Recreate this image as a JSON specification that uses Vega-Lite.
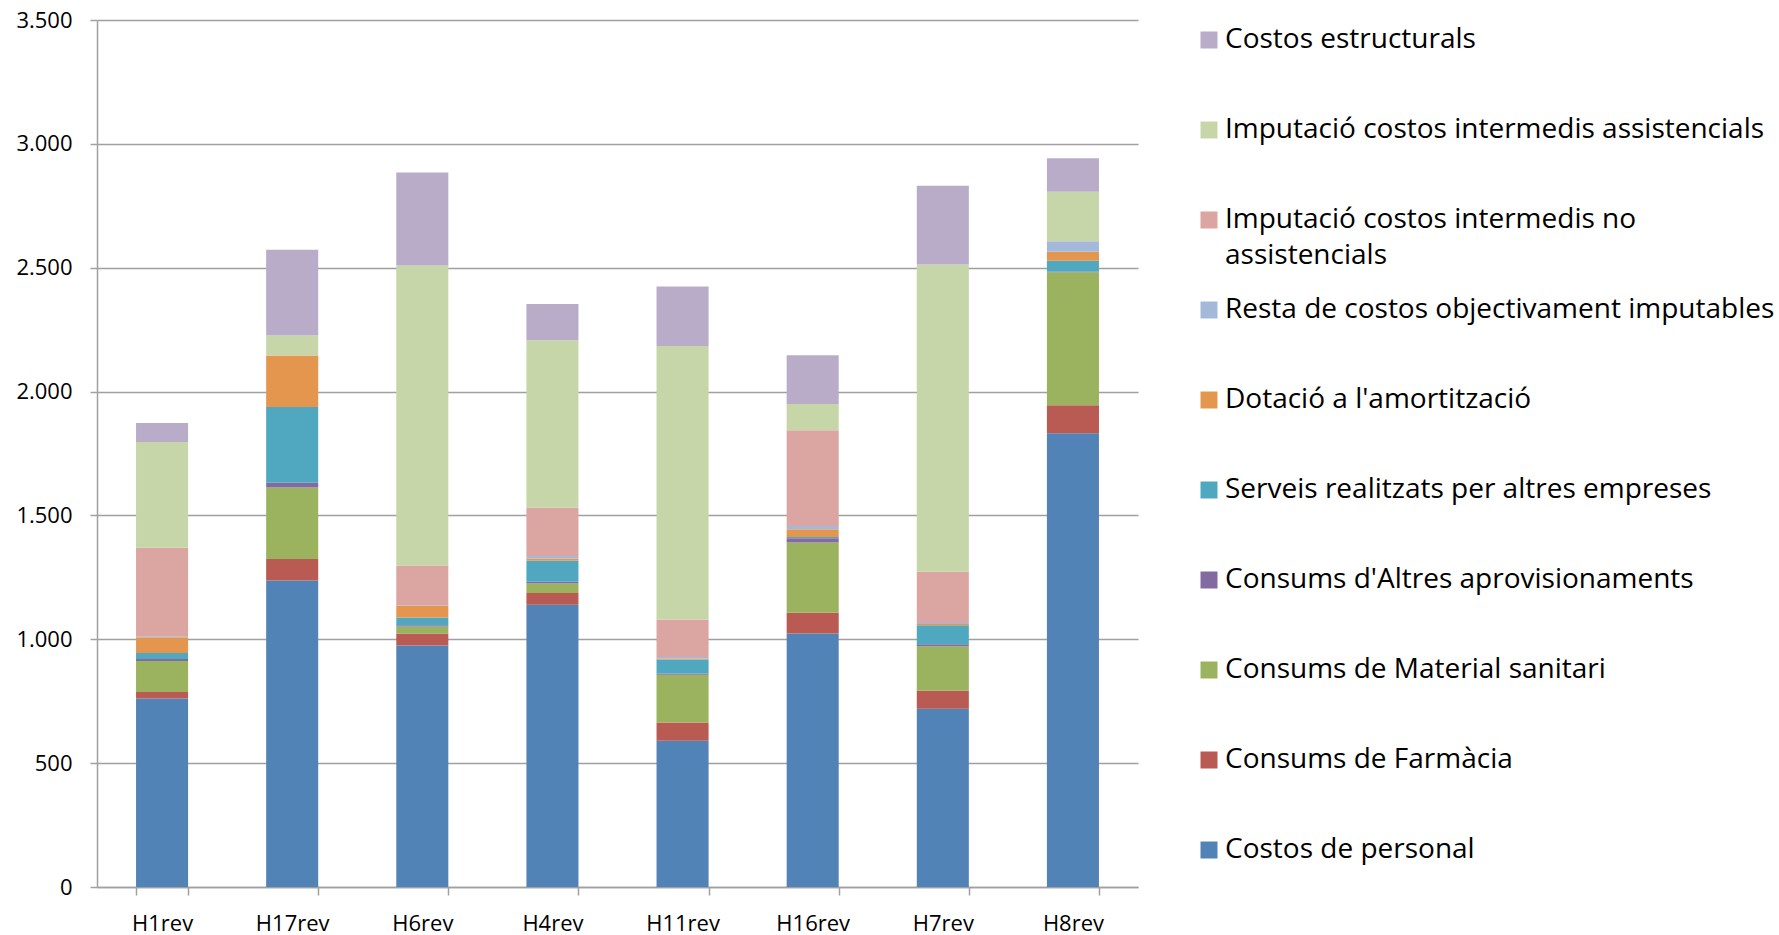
{
  "$schema": "https://vega.github.io/schema/vega-lite/v6.json",
  "autosize": {"type": "none"},
  "padding": {"left": 97, "top": 20, "right": 641, "bottom": 48},
  "width": 1041,
  "height": 867,
  "background": "white",
  "config": {
    "view": {"stroke": null},
    "font": "Open Sans"
  },
  "data": {
    "values": [
      {"h": "H1rev", "cat": "Costos de personal", "v": 761},
      {"h": "H1rev", "cat": "Consums de Farmàcia", "v": 26},
      {"h": "H1rev", "cat": "Consums de Material sanitari", "v": 125},
      {"h": "H1rev", "cat": "Consums d'Altres aprovisionaments", "v": 8},
      {"h": "H1rev", "cat": "Serveis realitzats per altres empreses", "v": 25},
      {"h": "H1rev", "cat": "Dotació a l'amortització", "v": 63},
      {"h": "H1rev", "cat": "Resta de costos objectivament imputables", "v": 4},
      {"h": "H1rev", "cat": "Imputació costos intermedis no assistencials", "v": 358},
      {"h": "H1rev", "cat": "Imputació costos intermedis assistencials", "v": 426},
      {"h": "H1rev", "cat": "Costos estructurals", "v": 77},

      {"h": "H17rev", "cat": "Costos de personal", "v": 1237},
      {"h": "H17rev", "cat": "Consums de Farmàcia", "v": 87},
      {"h": "H17rev", "cat": "Consums de Material sanitari", "v": 289},
      {"h": "H17rev", "cat": "Consums d'Altres aprovisionaments", "v": 19},
      {"h": "H17rev", "cat": "Serveis realitzats per altres empreses", "v": 306},
      {"h": "H17rev", "cat": "Dotació a l'amortització", "v": 208},
      {"h": "H17rev", "cat": "Resta de costos objectivament imputables", "v": 0},
      {"h": "H17rev", "cat": "Imputació costos intermedis no assistencials", "v": 0},
      {"h": "H17rev", "cat": "Imputació costos intermedis assistencials", "v": 80},
      {"h": "H17rev", "cat": "Costos estructurals", "v": 347},

      {"h": "H6rev", "cat": "Costos de personal", "v": 975},
      {"h": "H6rev", "cat": "Consums de Farmàcia", "v": 48},
      {"h": "H6rev", "cat": "Consums de Material sanitari", "v": 29},
      {"h": "H6rev", "cat": "Consums d'Altres aprovisionaments", "v": 5},
      {"h": "H6rev", "cat": "Serveis realitzats per altres empreses", "v": 31},
      {"h": "H6rev", "cat": "Dotació a l'amortització", "v": 48},
      {"h": "H6rev", "cat": "Resta de costos objectivament imputables", "v": 2},
      {"h": "H6rev", "cat": "Imputació costos intermedis no assistencials", "v": 160},
      {"h": "H6rev", "cat": "Imputació costos intermedis assistencials", "v": 1211},
      {"h": "H6rev", "cat": "Costos estructurals", "v": 375},

      {"h": "H4rev", "cat": "Costos de personal", "v": 1139},
      {"h": "H4rev", "cat": "Consums de Farmàcia", "v": 48},
      {"h": "H4rev", "cat": "Consums de Material sanitari", "v": 38},
      {"h": "H4rev", "cat": "Consums d'Altres aprovisionaments", "v": 7},
      {"h": "H4rev", "cat": "Serveis realitzats per altres empreses", "v": 85},
      {"h": "H4rev", "cat": "Dotació a l'amortització", "v": 9},
      {"h": "H4rev", "cat": "Resta de costos objectivament imputables", "v": 10},
      {"h": "H4rev", "cat": "Imputació costos intermedis no assistencials", "v": 195},
      {"h": "H4rev", "cat": "Imputació costos intermedis assistencials", "v": 676},
      {"h": "H4rev", "cat": "Costos estructurals", "v": 147},

      {"h": "H11rev", "cat": "Costos de personal", "v": 590},
      {"h": "H11rev", "cat": "Consums de Farmàcia", "v": 74},
      {"h": "H11rev", "cat": "Consums de Material sanitari", "v": 193},
      {"h": "H11rev", "cat": "Consums d'Altres aprovisionaments", "v": 5},
      {"h": "H11rev", "cat": "Serveis realitzats per altres empreses", "v": 55},
      {"h": "H11rev", "cat": "Dotació a l'amortització", "v": 4},
      {"h": "H11rev", "cat": "Resta de costos objectivament imputables", "v": 7},
      {"h": "H11rev", "cat": "Imputació costos intermedis no assistencials", "v": 152},
      {"h": "H11rev", "cat": "Imputació costos intermedis assistencials", "v": 1104},
      {"h": "H11rev", "cat": "Costos estructurals", "v": 240},

      {"h": "H16rev", "cat": "Costos de personal", "v": 1023},
      {"h": "H16rev", "cat": "Consums de Farmàcia", "v": 84},
      {"h": "H16rev", "cat": "Consums de Material sanitari", "v": 284},
      {"h": "H16rev", "cat": "Consums d'Altres aprovisionaments", "v": 17},
      {"h": "H16rev", "cat": "Serveis realitzats per altres empreses", "v": 5},
      {"h": "H16rev", "cat": "Dotació a l'amortització", "v": 31},
      {"h": "H16rev", "cat": "Resta de costos objectivament imputables", "v": 13},
      {"h": "H16rev", "cat": "Imputació costos intermedis no assistencials", "v": 387},
      {"h": "H16rev", "cat": "Imputació costos intermedis assistencials", "v": 106},
      {"h": "H16rev", "cat": "Costos estructurals", "v": 197},

      {"h": "H7rev", "cat": "Costos de personal", "v": 720},
      {"h": "H7rev", "cat": "Consums de Farmàcia", "v": 72},
      {"h": "H7rev", "cat": "Consums de Material sanitari", "v": 180},
      {"h": "H7rev", "cat": "Consums d'Altres aprovisionaments", "v": 8},
      {"h": "H7rev", "cat": "Serveis realitzats per altres empreses", "v": 77},
      {"h": "H7rev", "cat": "Dotació a l'amortització", "v": 5},
      {"h": "H7rev", "cat": "Resta de costos objectivament imputables", "v": 4},
      {"h": "H7rev", "cat": "Imputació costos intermedis no assistencials", "v": 207},
      {"h": "H7rev", "cat": "Imputació costos intermedis assistencials", "v": 1240},
      {"h": "H7rev", "cat": "Costos estructurals", "v": 318},

      {"h": "H8rev", "cat": "Costos de personal", "v": 1832},
      {"h": "H8rev", "cat": "Consums de Farmàcia", "v": 113},
      {"h": "H8rev", "cat": "Consums de Material sanitari", "v": 537},
      {"h": "H8rev", "cat": "Consums d'Altres aprovisionaments", "v": 3},
      {"h": "H8rev", "cat": "Serveis realitzats per altres empreses", "v": 43},
      {"h": "H8rev", "cat": "Dotació a l'amortització", "v": 36},
      {"h": "H8rev", "cat": "Resta de costos objectivament imputables", "v": 43},
      {"h": "H8rev", "cat": "Imputació costos intermedis no assistencials", "v": 0},
      {"h": "H8rev", "cat": "Imputació costos intermedis assistencials", "v": 200},
      {"h": "H8rev", "cat": "Costos estructurals", "v": 135}
    ]
  },
  "transform": [
    {
      "calculate": "indexof(['Costos de personal', 'Consums de Farmàcia', 'Consums de Material sanitari', 'Consums d\\'Altres aprovisionaments', 'Serveis realitzats per altres empreses', 'Dotació a l\\'amortització', 'Resta de costos objectivament imputables', 'Imputació costos intermedis no assistencials', 'Imputació costos intermedis assistencials', 'Costos estructurals'], datum.cat)",
      "as": "stackOrder"
    }
  ],
  "mark": {"type": "bar"},
  "encoding": {
    "x": {
      "field": "h",
      "type": "nominal",
      "sort": ["H1rev", "H17rev", "H6rev", "H4rev", "H11rev", "H16rev", "H7rev", "H8rev"],
      "scale": {"paddingInner": 0.6, "paddingOuter": 0.3},
      "axis": {
        "title": null,
        "labelAngle": 0,
        "labelFont": "Open Sans",
        "labelFontSize": 22,
        "labelColor": "#000000",
        "labelPadding": 18,
        "tickBand": "extent",
        "tickSize": 8,
        "tickColor": "#A0A0A0",
        "tickWidth": 1.5,
        "domainColor": "#A0A0A0",
        "domainWidth": 1.5,
        "grid": false
      }
    },
    "y": {
      "field": "v",
      "type": "quantitative",
      "stack": "zero",
      "scale": {"domain": [0, 3500], "nice": false},
      "axis": {
        "title": null,
        "values": [0, 500, 1000, 1500, 2000, 2500, 3000, 3500],
        "labelExpr": "replace(format(datum.value, ','), ',', '.')",
        "labelFont": "Open Sans",
        "labelFontSize": 22,
        "labelColor": "#000000",
        "labelPadding": 18,
        "tickSize": 7,
        "tickColor": "#A0A0A0",
        "tickWidth": 1.5,
        "domainColor": "#A0A0A0",
        "domainWidth": 1.5,
        "grid": true,
        "gridColor": "#A0A0A0",
        "gridWidth": 1.5
      }
    },
    "order": {"field": "stackOrder", "type": "quantitative", "sort": "ascending"},
    "color": {
      "field": "cat",
      "type": "nominal",
      "sort": [
        "Costos estructurals",
        "Imputació costos intermedis assistencials",
        "Imputació costos intermedis no assistencials",
        "Resta de costos objectivament imputables",
        "Dotació a l'amortització",
        "Serveis realitzats per altres empreses",
        "Consums d'Altres aprovisionaments",
        "Consums de Material sanitari",
        "Consums de Farmàcia",
        "Costos de personal"
      ],
      "scale": {
        "domain": [
          "Costos estructurals",
          "Imputació costos intermedis assistencials",
          "Imputació costos intermedis no assistencials",
          "Resta de costos objectivament imputables",
          "Dotació a l'amortització",
          "Serveis realitzats per altres empreses",
          "Consums d'Altres aprovisionaments",
          "Consums de Material sanitari",
          "Consums de Farmàcia",
          "Costos de personal"
        ],
        "range": ["#B9ACC9", "#C6D6A8", "#DBA5A2", "#A4B8DA", "#E4964E", "#4FA8BF", "#836AA0", "#9BB25E", "#B95A53", "#5283B6"]
      },
      "legend": {
        "title": null,
        "orient": "none",
        "legendX": 1098,
        "legendY": 6,
        "padding": 0,
        "symbolType": "square",
        "symbolSize": 289,
        "symbolStrokeWidth": 0,
        "symbolOpacity": 1,
        "labelFont": "Open Sans",
        "labelFontSize": 28,
        "labelColor": "#000000",
        "labelLimit": 700,
        "labelOffset": 2,
        "gridAlign": "all",
        "rowPadding": 26,
        "labelExpr": "datum.label == 'Imputació costos intermedis no assistencials' ? ['Imputació costos intermedis no', 'assistencials'] : datum.label",
        "encode": {
          "labels": {"update": {"lineHeight": {"value": 36}}}
        }
      }
    }
  }
}
